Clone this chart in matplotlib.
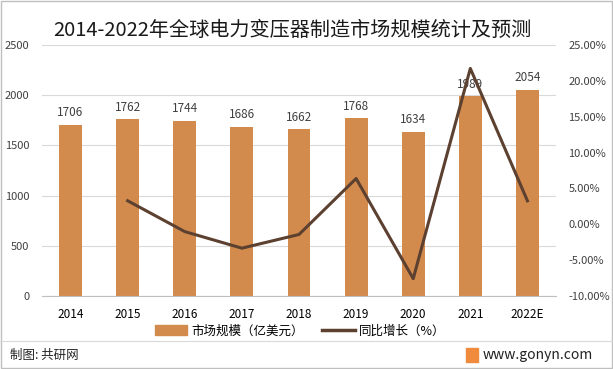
import numpy as np
import matplotlib.pyplot as plt
from matplotlib.lines import Line2D
from matplotlib.patches import Rectangle

plt.rcParams['font.family'] = ['Noto Sans CJK SC', 'DejaVu Sans']

years = ['2014', '2015', '2016', '2017', '2018', '2019', '2020', '2021', '2022E']
market_size = [1706, 1762, 1744, 1686, 1662, 1768, 1634, 1989, 2054]
growth = [None, 3.28, -1.02, -3.33, -1.42, 6.38, -7.58, 21.73, 3.27]

BAR_COLOR = '#D38B4D'
LINE_COLOR = '#5C4030'
GRID_COLOR = '#D9D9D9'
TEXT_COLOR = '#404040'

fig = plt.figure(figsize=(6.13, 3.69), dpi=100)
ax = fig.add_axes([42 / 613, 1 - 296 / 369, (556 - 42) / 613, (296 - 45) / 369])

x = np.arange(len(years))
bars = ax.bar(x, market_size, width=0.4, color=BAR_COLOR, zorder=2)
for xi, v in zip(x, market_size):
    ax.text(xi, v + 55, str(v), ha='center', va='bottom', fontsize=8.5, color=TEXT_COLOR, zorder=3)

ax.set_xlim(-0.5, len(years) - 0.5)
ax.set_ylim(0, 2500)
ax.set_yticks([0, 500, 1000, 1500, 2000, 2500])
ax.set_xticks(x)
ax.set_xticklabels(years, fontsize=8.5, color='black')
ax.tick_params(axis='x', length=0, pad=9)
ax.tick_params(axis='y', length=0, pad=9, labelsize=8, labelcolor=TEXT_COLOR)
ax.grid(axis='y', color=GRID_COLOR, linewidth=0.8, zorder=0)
for s in ['top', 'right', 'left']:
    ax.spines[s].set_visible(False)
ax.spines['bottom'].set_color('#BFBFBF')
ax.set_axisbelow(True)

ax2 = ax.twinx()
gx = [xi for xi, g in zip(x, growth) if g is not None]
gy = [g for g in growth if g is not None]
ax2.plot(gx, gy, color=LINE_COLOR, linewidth=2.2, zorder=4)
ax2.set_ylim(-10, 25)
ax2.set_yticks(np.arange(-10, 26, 5))
ax2.set_yticklabels(['%.2f%%' % t for t in np.arange(-10, 26, 5)])
ax2.tick_params(axis='y', length=0, pad=9, labelsize=8, labelcolor=TEXT_COLOR)
for s in ['top', 'right', 'left', 'bottom']:
    ax2.spines[s].set_visible(False)

fig.text(292 / 613, 1 - 30 / 369, '2014-2022年全球电力变压器制造市场规模统计及预测',
         ha='center', va='center', fontsize=14.5, color='#1a1a1a')

handles = [Rectangle((0, 0), 1, 1, color=BAR_COLOR),
           Line2D([0], [0], color=LINE_COLOR, linewidth=2.5)]
fig.legend(handles, ['市场规模（亿美元）', '同比增长（%）'], loc='center',
           bbox_to_anchor=(300 / 613, 1 - 331 / 369), ncol=2, frameon=False,
           fontsize=9, handlelength=2.6, handleheight=0.9, columnspacing=1.5,
           handletextpad=0.3)

fig.add_artist(Line2D([0, 1], [1 - 341 / 369, 1 - 341 / 369], color='#D9D9D9', linewidth=0.8))
fig.add_artist(Rectangle((0.001, 0.002), 0.997, 0.996, fill=False, edgecolor='#BFBFBF', linewidth=1))
fig.text(10 / 613, 1 - 355 / 369, '制图: 共研网', ha='left', va='center', fontsize=9, color='#222222')
fig.add_artist(Rectangle((466 / 613, 1 - 362 / 369), 12 / 613, 14 / 369, color='#F08A3C'))
fig.text(483 / 613, 1 - 355 / 369, 'www.gonyn.com', ha='left', va='center', fontsize=10, color='#222222')

fig.savefig('out.png', dpi=100)
